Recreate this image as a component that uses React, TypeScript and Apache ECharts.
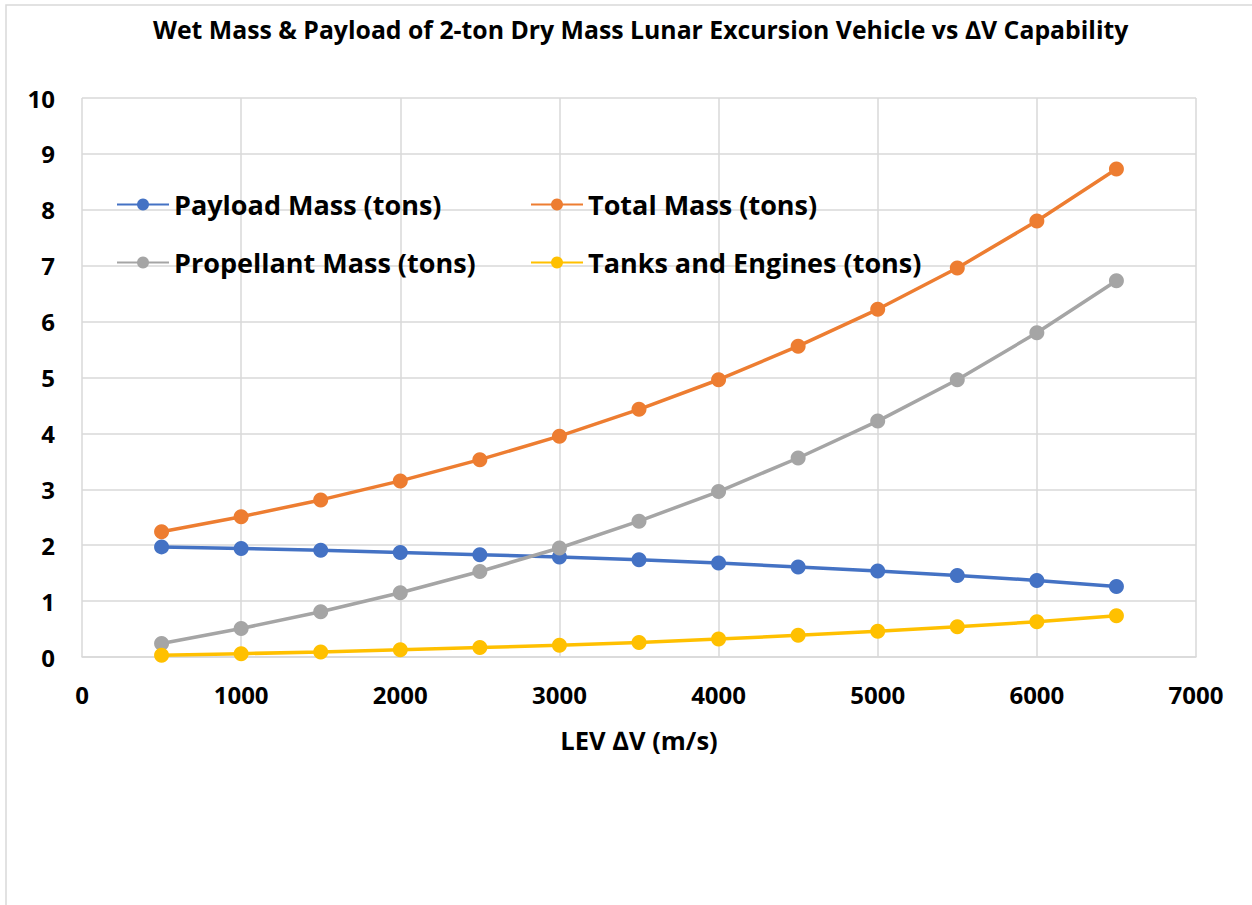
import React, { useEffect, useRef } from "react";
import * as echarts from "echarts";

const deltaV = [500, 1000, 1500, 2000, 2500, 3000, 3500, 4000, 4500, 5000, 5500, 6000, 6500];
const payloadMass = [1.97, 1.94, 1.91, 1.87, 1.83, 1.79, 1.74, 1.68, 1.61, 1.54, 1.46, 1.37, 1.26];
const totalMass = [2.24, 2.51, 2.81, 3.15, 3.53, 3.95, 4.43, 4.96, 5.56, 6.22, 6.96, 7.8, 8.73];
const propellantMass = [0.24, 0.51, 0.81, 1.15, 1.53, 1.95, 2.43, 2.96, 3.56, 4.22, 4.96, 5.8, 6.73];
const tanksEngines = [0.03, 0.06, 0.09, 0.13, 0.17, 0.21, 0.26, 0.32, 0.39, 0.46, 0.54, 0.63, 0.74];

const seriesNames = [
  "Payload Mass (tons)",
  "Total Mass (tons)",
  "Propellant Mass (tons)",
  "Tanks and Engines (tons)",
];
const seriesColors = ["#4472C4", "#ED7D31", "#A5A5A5", "#FFC000"];
const seriesValues = [payloadMass, totalMass, propellantMass, tanksEngines];

const titleText = "Wet Mass & Payload of 2-ton Dry Mass Lunar Excursion Vehicle vs \u2206V Capability";
const xAxisName = "LEV \u2206V (m/s)";

const FONT = "'Open Sans', Lato, sans-serif";

export default function App() {
  const ref = useRef<HTMLDivElement>(null);
  useEffect(() => {
    if (!ref.current) return;
    const chart = echarts.init(ref.current, undefined, { renderer: "svg" });
    const legendPos = [
      { left: 116, top: 191 },
      { left: 530, top: 191 },
      { left: 116, top: 249 },
      { left: 530, top: 249 },
    ];
    chart.setOption({
      animation: false,
      backgroundColor: "#ffffff",
      title: {
        text: titleText,
        left: 153,
        top: 16,
        padding: 0,
        textStyle: { fontFamily: FONT, fontWeight: "bold", fontSize: 24.8, color: "#000" },
      },
      legend: seriesNames.map((n, i) => ({
        data: [n],
        left: legendPos[i].left,
        top: legendPos[i].top,
        itemWidth: 52,
        itemHeight: 15,
        padding: 0,
        textStyle: { fontFamily: FONT, fontWeight: "bold", fontSize: 27, color: "#000" },
      })),
      grid: { left: 82, right: 56, top: 98, bottom: 248, containLabel: false },
      xAxis: {
        type: "value",
        min: 0,
        max: 7000,
        interval: 1000,
        name: xAxisName,
        nameLocation: "middle",
        nameGap: 70,
        nameTextStyle: { fontFamily: FONT, fontWeight: "bold", fontSize: 25.5, color: "#000" },
        axisLine: { show: true, lineStyle: { color: "#D9D9D9", width: 1.5 } },
        axisTick: { show: false },
        axisLabel: {
          margin: 25,
          fontFamily: FONT,
          fontWeight: "bold",
          fontSize: 24,
          color: "#000",
          formatter: (v: number) => String(v),
        },
        splitLine: { show: true, lineStyle: { color: "#D9D9D9", width: 1.5 } },
      },
      yAxis: {
        type: "value",
        min: 0,
        max: 10,
        interval: 1,
        axisLine: { show: false },
        axisTick: { show: false },
        axisLabel: { margin: 27, fontFamily: FONT, fontWeight: "bold", fontSize: 24, color: "#000" },
        splitLine: { show: true, lineStyle: { color: "#D9D9D9", width: 1.5 } },
      },
      graphic: [
        {
          type: "rect",
          shape: { x: 6, y: 5, width: 1300, height: 1000 },
          style: { fill: "none", stroke: "#D9D9D9", lineWidth: 1.5 },
          silent: true,
        },
      ],
      series: seriesNames.map((n, i) => ({
        name: n,
        type: "line",
        data: deltaV.map((x, j) => [x, seriesValues[i][j]]),
        symbol: "circle",
        symbolSize: 15,
        lineStyle: { color: seriesColors[i], width: 3.5 },
        itemStyle: { color: seriesColors[i] },
      })),
    });
    return () => chart.dispose();
  }, []);
  return (
    <div
      ref={ref}
      style={{ position: "fixed", left: 0, top: 0, width: 1252, height: 905 }}
    />
  );
}
